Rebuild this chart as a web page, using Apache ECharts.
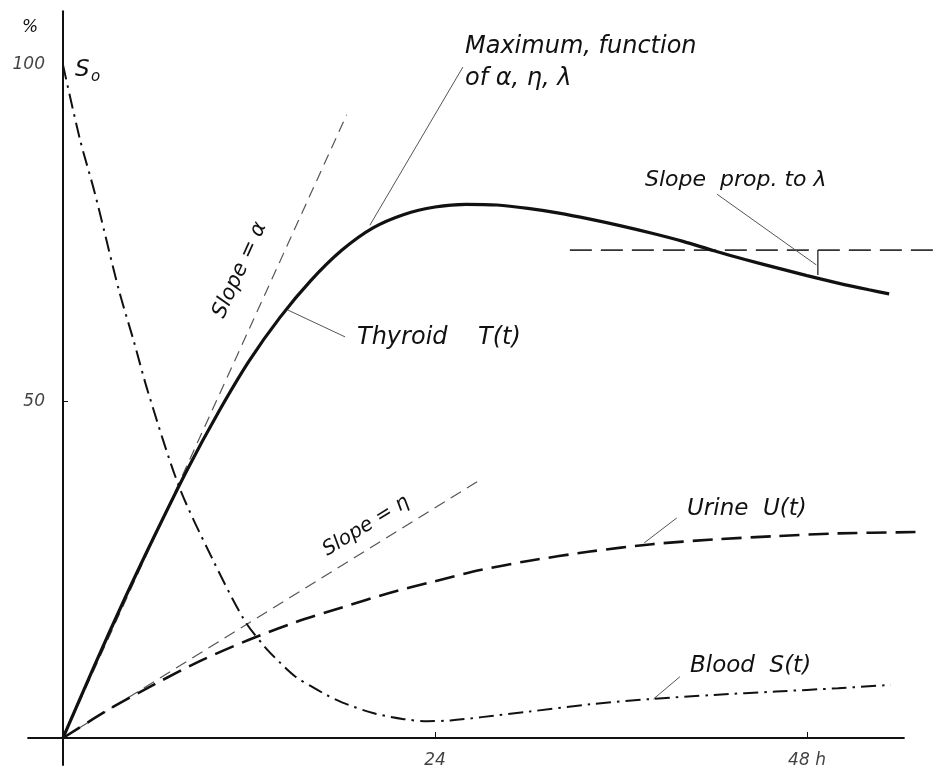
<!DOCTYPE html>
<html>
<head>
<meta charset="utf-8">
<script src="https://cdn.jsdelivr.net/npm/echarts@6/dist/echarts.min.js"></script>
<style>
html,body{margin:0;padding:0;background:#fff;}
#chart{width:937px;height:776px;}
</style>
</head>
<body>
<div id="chart"></div>
<script>
// ---- data (hours, %) ----
const thyroidT = [0, 2, 4, 6, 8, 10, 12, 14, 16, 18, 20, 22, 24, 26, 28, 30, 32, 34, 36, 38, 40, 42, 44, 46, 48, 50, 52, 53.3];
const thyroidV = [0, 10.6, 20.8, 30.5, 39.8, 48.3, 56.0, 62.5, 68.0, 72.5, 75.8, 77.8, 78.9, 79.3, 79.2, 78.7, 78.0, 77.1, 76.1, 75.0, 73.8, 72.4, 71.1, 69.9, 68.7, 67.6, 66.6, 66.0];

const bloodT = [0, 1.1, 2.05, 3.6, 4.55, 5.5, 7.5, 9.6, 11.7, 13, 14, 15, 16, 17, 18, 20, 22, 23.5, 25, 27, 30, 34, 38, 42, 46, 50, 53.4];
const bloodV = [100, 88.9, 81.0, 66.6, 59.1, 51.3, 37.3, 26.8, 17.5, 13.6, 11.2, 9.1, 7.7, 6.4, 5.3, 3.7, 2.8, 2.5, 2.6, 3.1, 3.9, 5.0, 5.8, 6.4, 6.9, 7.4, 7.9];

const urineT = [0, 3, 6, 9, 12, 15, 18, 21, 24, 27, 30, 34, 38, 42, 46, 50, 55];
const urineV = [0, 4.3, 8.1, 11.6, 14.6, 17.2, 19.4, 21.5, 23.3, 25.0, 26.3, 27.7, 28.8, 29.5, 30.0, 30.4, 30.6];

const slopeAlphaEnd = [18.3, 92.6];
const slopeEtaEnd = [26.8, 38.2];
const lambdaLevel = 72.5;
const lambdaRange = [32.7, 56.4];
const lambdaDropT = 48.7;
const lambdaDropBottom = 68.8;

const xTicks = [24, 48];
const xTickLabels = ['24', '48 h'];
const yTicks = [50, 100];
const yTickLabels = ['50', '100'];

// leader lines for annotations [from, to]
const leaderMaximum = [[19.8, 76.2], [25.8, 99.7]];
const leaderThyroid = [[14.5, 63.6], [18.2, 59.6]];
const leaderLambda  = [[42.2, 80.8], [48.6, 70.3]];
const leaderUrine   = [[37.5, 29.0], [39.6, 32.7]];
const leaderBlood   = [[38.1, 5.8], [39.8, 9.1]];
const xAxisExtent = [-2.3, 54.3];

const zip = (a, b) => a.map((v, i) => [v, b[i]]);
const INK = '#111';
const FONT = '"DejaVu Sans", sans-serif';

const chart = echarts.init(document.getElementById('chart'), null, {renderer: 'canvas'});

function lineSeries(name, data, style, extra) {
  return Object.assign({
    name: name, type: 'line', data: data, symbol: 'none', silent: true,
    animation: false, lineStyle: style, z: 2
  }, extra || {});
}

const tickLabelStyle = {color: '#111', fontStyle: 'italic', fontSize: 17, fontFamily: FONT};

const option = {
  backgroundColor: '#fff',
  animation: false,
  grid: {left: 27.35, right: 0, top: 11.2, bottom: 11.1, containLabel: false, outerBoundsMode: 'none'},
  xAxis: {
    type: 'value', min: -2.3, max: 56.387,
    axisLine: {show: true, onZero: true, lineStyle: {opacity: 0}},
    splitLine: {show: false},
    axisTick: {show: true, inside: true, length: 6, customValues: xTicks, lineStyle: {color: INK, width: 1}},
    axisLabel: {show: false}
  },
  yAxis: {
    type: 'value', min: -4, max: 108,
    axisLine: {show: true, onZero: true, lineStyle: {color: INK, width: 2}},
    splitLine: {show: false},
    axisTick: {show: true, inside: true, length: 5, customValues: [50], lineStyle: {color: INK, width: 1}},
    axisLabel: {show: false}
  },
  series: [
    lineSeries('xaxis', [[xAxisExtent[0], 0], [xAxisExtent[1], 0]], {color: INK, width: 2}),
    lineSeries('Slope α', [[0, 0], slopeAlphaEnd], {color: '#555', width: 1.2, type: [11, 7]}),
    lineSeries('Slope η', [[0, 0], slopeEtaEnd], {color: '#555', width: 1.2, type: [12, 7]}),
    lineSeries('Thyroid T(t)', zip(thyroidT, thyroidV), {color: INK, width: 3.2}, {smooth: 0.3, z: 4}),
    lineSeries('Blood S(t)', zip(bloodT, bloodV), {color: INK, width: 2, type: [15, 6, 2.5, 6]}, {smooth: 0.3, z: 3}),
    lineSeries('Urine U(t)', zip(urineT, urineV), {color: INK, width: 2.6, type: [20, 9]}, {smooth: 0.3, z: 3}),
    lineSeries('lambda level', [[lambdaRange[0], lambdaLevel], [lambdaRange[1], lambdaLevel]], {color: '#333', width: 1.6, type: [22, 9]}),
    lineSeries('lambda drop', [[lambdaDropT, lambdaLevel], [lambdaDropT, lambdaDropBottom]], {color: '#333', width: 1.4}),
    lineSeries('leader max', leaderMaximum, {color: '#555', width: 1}),
    lineSeries('leader thyroid', leaderThyroid, {color: '#555', width: 1}),
    lineSeries('leader lambda', leaderLambda, {color: '#555', width: 1}),
    lineSeries('leader urine', leaderUrine, {color: '#555', width: 1}),
    lineSeries('leader blood', leaderBlood, {color: '#555', width: 1}),
    {
      name: 'x tick labels', type: 'scatter', silent: true, symbolSize: 0,
      data: xTicks.map(v => [v, 0]),
      label: Object.assign({show: true, position: 'bottom', distance: 14,
        formatter: p => xTickLabels[p.dataIndex]}, tickLabelStyle)
    },
    {
      name: 'y tick labels', type: 'scatter', silent: true, symbolSize: 0,
      data: yTicks.map(v => [0, v]),
      label: Object.assign({show: true, position: 'left', distance: 18,
        formatter: p => yTickLabels[p.dataIndex]}, tickLabelStyle)
    }
  ],
  graphic: [
    {type: 'text', x: 22, y: 28, style: {text: '%', font: 'italic 17px ' + FONT, fill: '#111', align: 'left', verticalAlign: 'middle'}},
    {type: 'text', x: 75, y: 70, style: {text: 'S', font: 'italic 23px ' + FONT, fill: '#111', align: 'left', verticalAlign: 'middle'}},
    {type: 'text', x: 91, y: 77, style: {text: 'o', font: 'italic 15px ' + FONT, fill: '#111', align: 'left', verticalAlign: 'middle'}},
    {type: 'text', x: 465, y: 47, style: {text: 'Maximum, function', font: 'italic 24px ' + FONT, fill: '#111', align: 'left', verticalAlign: 'middle'}},
    {type: 'text', x: 465, y: 79, style: {text: 'of α, η, λ', font: 'italic 24px ' + FONT, fill: '#111', align: 'left', verticalAlign: 'middle'}},
    {type: 'text', x: 645, y: 180, style: {text: 'Slope  prop. to λ', font: 'italic 22px ' + FONT, fill: '#111', align: 'left', verticalAlign: 'middle'}},
    {type: 'text', x: 357, y: 338, style: {text: 'Thyroid    T(t)', font: 'italic 24px ' + FONT, fill: '#111', align: 'left', verticalAlign: 'middle'}},
    {type: 'text', x: 687, y: 509, style: {text: 'Urine  U(t)', font: 'italic 23px ' + FONT, fill: '#111', align: 'left', verticalAlign: 'middle'}},
    {type: 'text', x: 690, y: 666, style: {text: 'Blood  S(t)', font: 'italic 23px ' + FONT, fill: '#111', align: 'left', verticalAlign: 'middle'}},
    {type: 'text', x: 240, y: 270, rotation: 65.5 * Math.PI / 180, style: {text: 'Slope = α', font: 'italic 21px ' + FONT, fill: '#111', align: 'center', verticalAlign: 'middle'}},
    {type: 'text', x: 366, y: 526, rotation: 31.7 * Math.PI / 180, style: {text: 'Slope = η', font: 'italic 20px ' + FONT, fill: '#111', align: 'center', verticalAlign: 'middle'}}
  ]
};
chart.setOption(option);
</script>
</body>
</html>
